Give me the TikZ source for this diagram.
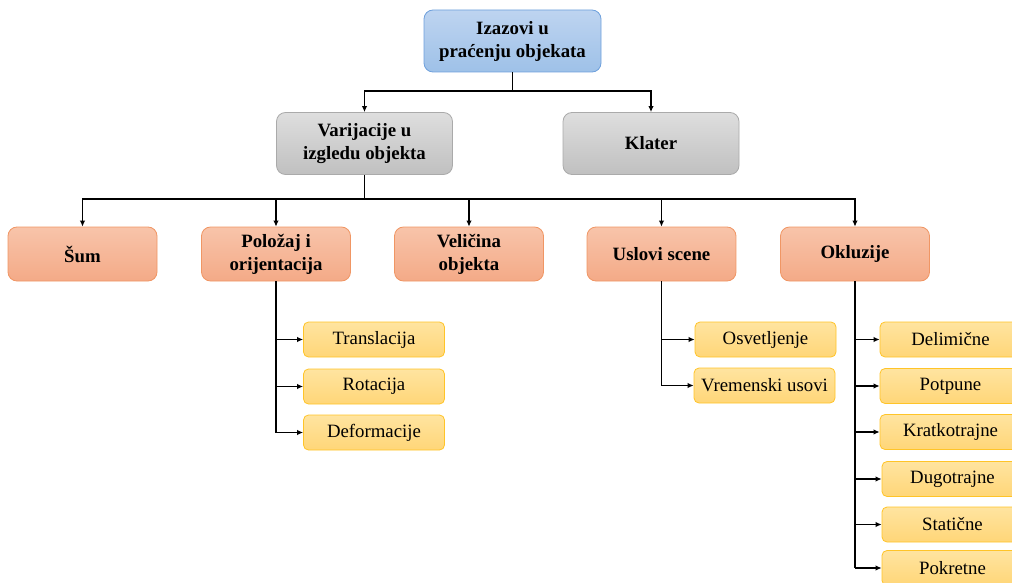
\documentclass[tikz,border=0pt]{standalone}
\usepackage{fontspec}
\setmainfont{Liberation Serif}
\usetikzlibrary{arrows.meta,shadings}
\definecolor{blueTop}{RGB}{190,212,240}
\definecolor{blueBot}{RGB}{158,193,232}
\definecolor{blueLine}{RGB}{110,160,220}
\definecolor{grayTop}{RGB}{222,222,222}
\definecolor{grayBot}{RGB}{192,192,192}
\definecolor{grayLine}{RGB}{170,170,170}
\definecolor{orTop}{RGB}{248,196,170}
\definecolor{orBot}{RGB}{244,170,135}
\definecolor{orLine}{RGB}{240,150,100}
\definecolor{yeTop}{RGB}{255,228,160}
\definecolor{yeBot}{RGB}{255,214,120}
\definecolor{yeLine}{RGB}{255,196,40}
\tikzset{
  box/.style={rounded corners=9pt, line width=0.8pt, align=center,
    inner sep=0pt, font=\fontsize{18.8}{23}\selectfont\bfseries},
  rootbox/.style={box, draw=blueLine, top color=blueTop, bottom color=blueBot,
    minimum width=177pt, minimum height=62pt},
  midbox/.style={box, draw=grayLine, top color=grayTop, bottom color=grayBot,
    minimum width=176pt, minimum height=62pt},
  catbox/.style={box, draw=orLine, top color=orTop, bottom color=orBot,
    minimum width=149pt, minimum height=54pt},
  leafbox/.style={rounded corners=5pt, line width=0.8pt, align=center,
    inner sep=0pt, draw=yeLine, top color=yeTop, bottom color=yeBot,
    minimum width=141pt, minimum height=35pt,
    font=\fontsize{18.8}{23}\selectfont},
  link/.style={line width=1.2pt, black},
  arr/.style={link, -{Latex[length=6pt,width=5.5pt]}}
}
\begin{document}
\begin{tikzpicture}[x=1pt,y=-1pt]
\useasboundingbox (0,0) rectangle (1012,583);
\clip (0,0) rectangle (1012,583);

% top level
\node[rootbox] (root) at (512.5,41) {Izazovi u\\praćenju objekata};
\node[midbox] (var) at (364.5,143.5) {Varijacije u\\izgledu objekta};
\node[midbox] (kla) at (651,143.5) {Klater};

% categories
\node[catbox] (sum) at (82.5,254) {Šum};
\node[catbox] (pol) at (276,254) {Položaj i\\orijentacija};
\node[catbox] (vel) at (469,254) {Veličina\\objekta};
\node[catbox] (usl) at (661.5,254) {Uslovi scene};
\node[catbox] (okl) at (855,254) {Okluzije};

% leaves under Položaj i orijentacija
\node[leafbox] (tra) at (374,339.5) {Translacija};
\node[leafbox] (rot) at (374,386.5) {Rotacija};
\node[leafbox] (def) at (374,432.5) {Deformacije};

% leaves under Uslovi scene
\node[leafbox] (osv) at (765.5,339.5) {Osvetljenje};
\node[leafbox] (vre) at (764.5,385.5) {Vremenski usovi};

% leaves under Okluzije
\node[leafbox] (del) at (950.5,339.5) {Delimične};
\node[leafbox] (pot) at (950.5,386) {Potpune};
\node[leafbox] (kra) at (950.5,432) {Kratkotrajne};
\node[leafbox] (dug) at (952.5,479) {Dugotrajne};
\node[leafbox] (sta) at (952.5,524.5) {Statične};
\node[leafbox] (pok) at (952.5,568) {Pokretne};

% bus lines
\coordinate (b1) at (512.5,91);
\draw[link] (root.south) -- (b1);
\draw[arr] (b1) -| (var.north);
\draw[arr] (b1) -| (kla.north);

\coordinate (b2) at (364.5,199);
\draw[link] (var.south) -- (b2);
\foreach \n in {sum,pol,vel,usl,okl}
  \draw[arr] (b2) -| (\n.north);

% side branches
\draw[link] (pol.south) -- (pol.south |- def.west);
\foreach \n in {tra,rot,def}
  \draw[arr] (pol.south |- \n.west) -- (\n.west);

\draw[link] (usl.south) -- (usl.south |- vre.west);
\foreach \n in {osv,vre}
  \draw[arr] (usl.south |- \n.west) -- (\n.west);

\draw[link] (okl.south) -- (okl.south |- pok.west);
\foreach \n in {del,pot,kra,dug,sta,pok}
  \draw[arr] (okl.south |- \n.west) -- (\n.west);
\end{tikzpicture}
\end{document}
